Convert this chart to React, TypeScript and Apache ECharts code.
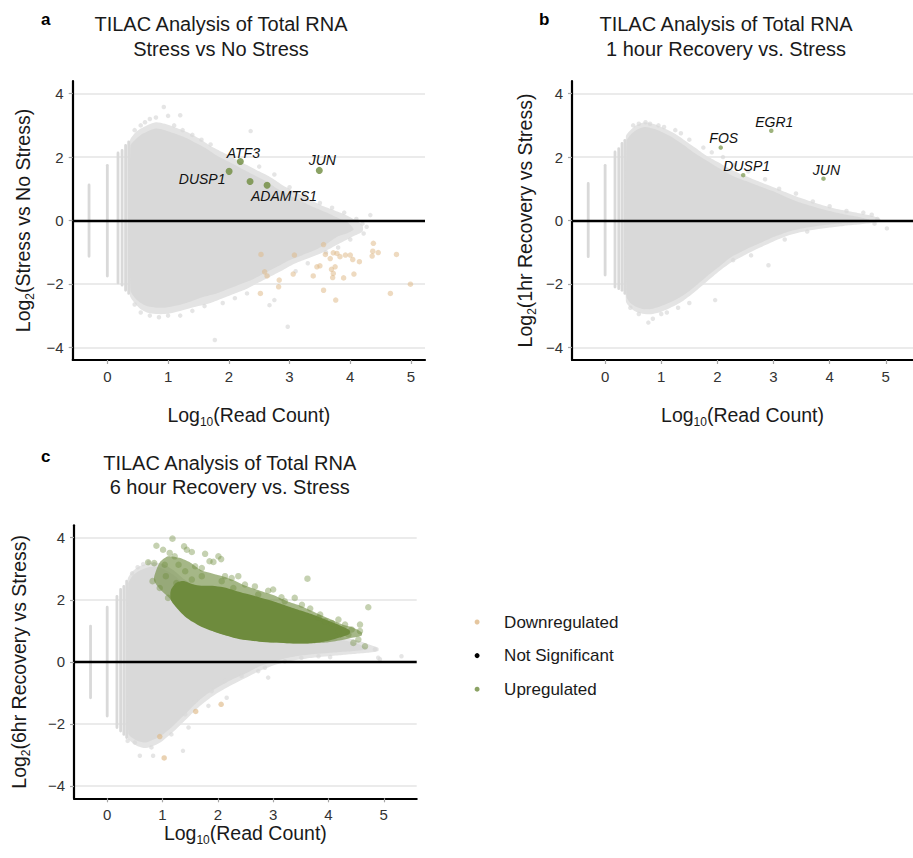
import React, { useEffect, useRef } from "react";
import * as echarts from "echarts";

const FONT = '"Liberation Sans", Arial, Helvetica, sans-serif';

// ---------- Panel a: Stress vs No Stress ----------
const aCloudX = [0.38, 0.46, 0.55, 0.65, 0.8, 0.95, 1.1, 1.3, 1.45, 1.6, 1.8, 2.0, 2.2, 2.4, 2.6, 2.8, 3.0, 3.2, 3.4, 3.6, 3.8, 3.95, 4.05];
const aCloudHi = [2.35, 2.55, 2.7, 2.8, 2.9, 2.85, 2.75, 2.6, 2.45, 2.3, 2.05, 1.85, 1.65, 1.45, 1.25, 1.0, 0.8, 0.6, 0.42, 0.26, 0.08, -0.05, -0.25];
const aCloudLo = [-2.2, -2.45, -2.6, -2.7, -2.75, -2.75, -2.7, -2.6, -2.5, -2.4, -2.3, -2.15, -2.0, -1.85, -1.65, -1.45, -1.25, -1.1, -0.95, -0.75, -0.5, -0.4, -0.3];
const aHaloX = [0.37, 0.45, 0.55, 0.65, 0.8, 0.95, 1.1, 1.3, 1.5, 1.7, 1.9, 2.1, 2.3, 2.5, 2.7, 2.9, 3.1, 3.3, 3.5, 3.7, 3.9, 4.05, 4.2];
const aHaloHi = [2.5, 2.75, 2.9, 3.0, 3.1, 3.05, 2.95, 2.8, 2.6, 2.35, 2.15, 1.95, 1.75, 1.55, 1.35, 1.1, 0.9, 0.7, 0.5, 0.35, 0.2, 0.05, -0.15];
const aHaloLo = [-2.35, -2.6, -2.8, -2.9, -2.95, -2.95, -2.9, -2.8, -2.7, -2.6, -2.45, -2.3, -2.15, -1.95, -1.75, -1.55, -1.35, -1.2, -1.05, -0.85, -0.65, -0.5, -0.35];
const aStripeX = [-0.301, 0, 0.176, 0.243, 0.301, 0.352];
const aStripeLo = [-1.13, -1.75, -1.97, -2.04, -2.2, -2.3];
const aStripeHi = [1.12, 1.74, 2.13, 2.21, 2.37, 2.48];
const aFringe = [
  [0.45, 2.85], [0.55, 3.0], [0.62, 3.1], [0.7, 3.2], [0.8, 3.25], [0.93, 3.58], [1.0, 3.3], [1.1, 3.0], [1.2, 3.32], [1.24, 2.85],
  [1.4, 2.7], [1.55, 2.55], [1.7, 2.4], [2.36, 2.82], [2.5, 1.7], [2.75, 1.45], [3.0, 1.05], [3.25, 0.8], [3.5, 0.55], [3.7, 0.4],
  [3.9, 0.25], [4.1, 0.05], [4.2, -0.1], [4.27, -0.2], [4.33, 0.17], [4.22, -0.41],
  [0.45, -2.65], [0.55, -2.9], [0.7, -3.0], [0.85, -3.05], [1.0, -3.0], [1.2, -3.0], [1.4, -2.85], [1.6, -2.7], [1.77, -3.77],
  [1.9, -2.6], [2.1, -2.45], [2.3, -2.3], [2.67, -2.67], [2.75, -2.51], [2.97, -3.35], [3.1, -1.6], [3.3, -1.35], [3.6, -1.0],
  [3.8, -0.85], [4.0, -0.6]
];
const aDown = [
  [2.53, -1.07], [3.08, -1.09], [3.56, -0.76], [3.59, -1.07], [3.67, -1.2], [3.72, -1.02], [3.78, -1.04], [3.83, -1.14], [3.92, -1.09],
  [4.0, -1.09], [4.04, -1.23], [4.15, -1.3], [4.38, -0.72], [4.37, -0.97], [4.36, -1.12], [4.46, -1.01], [4.76, -1.07], [2.59, -1.62],
  [2.63, -1.75], [2.83, -1.88], [2.82, -2.09], [3.06, -1.69], [3.39, -1.75], [3.45, -1.46], [3.5, -1.43], [3.69, -1.54], [3.72, -1.67],
  [3.75, -1.46], [3.71, -1.8], [3.89, -1.81], [4.06, -1.69], [2.52, -2.3], [3.56, -2.2], [3.76, -2.51], [4.66, -2.3], [4.99, -2.01]
];
const aUpGene = ["DUSP1", "ATF3", "", "ADAMTS1", "JUN"];
const aUpX = [2.005, 2.19, 2.35, 2.63, 3.49];
const aUpY = [1.55, 1.86, 1.23, 1.11, 1.58];

// ---------- Panel b: 1 hour Recovery vs. Stress ----------
const bCloudX = [0.38, 0.45, 0.55, 0.7, 0.85, 1.0, 1.2, 1.4, 1.6, 1.8, 2.0, 2.25, 2.5, 2.75, 3.0, 3.25, 3.5, 3.75, 4.0, 4.25, 4.5, 4.7];
const bCloudHi = [2.5, 2.7, 2.85, 2.95, 2.9, 2.8, 2.62, 2.38, 2.12, 1.9, 1.68, 1.43, 1.25, 1.08, 0.92, 0.72, 0.55, 0.42, 0.3, 0.2, 0.12, 0.03];
const bCloudLo = [-2.4, -2.6, -2.72, -2.8, -2.78, -2.7, -2.55, -2.35, -2.08, -1.78, -1.5, -1.15, -0.92, -0.72, -0.52, -0.36, -0.25, -0.18, -0.13, -0.09, -0.06, -0.02];
const bHaloX = [0.37, 0.45, 0.55, 0.7, 0.85, 1.0, 1.2, 1.4, 1.6, 1.8, 2.0, 2.25, 2.5, 2.75, 3.0, 3.25, 3.5, 3.75, 4.0, 4.25, 4.5, 4.75, 4.9];
const bHaloHi = [2.65, 2.85, 3.0, 3.1, 3.05, 2.95, 2.78, 2.55, 2.3, 2.05, 1.85, 1.6, 1.4, 1.22, 1.05, 0.87, 0.7, 0.55, 0.42, 0.32, 0.24, 0.15, 0.05];
const bHaloLo = [-2.55, -2.75, -2.88, -2.95, -2.95, -2.88, -2.72, -2.52, -2.25, -1.95, -1.65, -1.32, -1.08, -0.86, -0.66, -0.48, -0.36, -0.28, -0.22, -0.17, -0.13, -0.08, -0.03];
const bStripeX = [-0.301, 0, 0.176, 0.243, 0.301, 0.352];
const bStripeLo = [-1.14, -1.72, -2.1, -2.15, -2.2, -2.3];
const bStripeHi = [1.17, 1.74, 2.16, 2.27, 2.43, 2.53];
const bFringe = [
  [0.5, 3.0], [0.6, 3.05], [0.72, 3.1], [0.8, 3.05], [0.95, 3.0], [1.05, 2.95], [1.25, 2.85], [1.35, 2.75], [1.5, 2.55], [1.75, 2.3],
  [1.9, 2.15], [2.1, 2.0], [2.3, 1.75], [2.55, 1.55], [2.85, 1.3], [3.1, 1.0], [3.4, 0.85], [3.7, 0.6], [4.0, 0.45], [4.3, 0.3],
  [4.6, 0.25], [4.75, 0.18], [4.85, 0.05], [5.02, -0.25], [4.8, -0.1],
  [0.45, -2.75], [0.6, -2.95], [0.77, -3.22], [0.85, -3.1], [1.0, -2.95], [1.1, -2.9], [1.3, -2.75], [1.5, -2.6], [1.96, -2.51],
  [2.28, -1.25], [2.91, -1.41], [2.6, -1.1], [3.2, -0.6], [3.6, -0.35]
];
const bUpGene = ["FOS", "EGR1", "DUSP1", "JUN"];
const bUpX = [2.06, 2.96, 2.46, 3.89];
const bUpY = [2.3, 2.83, 1.43, 1.32];

// ---------- Panel c: 6 hour Recovery vs. Stress ----------
const cCloudX = [0.38, 0.45, 0.55, 0.7, 0.85, 1.0, 1.2, 1.4, 1.6, 1.8, 2.0, 2.25, 2.5, 2.75, 3.0, 3.25, 3.5, 3.75, 4.0, 4.25, 4.5, 4.7];
const cCloudHi = [2.5, 2.75, 2.9, 3.02, 3.07, 3.0, 2.8, 2.5, 2.3, 2.2, 2.1, 1.9, 1.7, 1.5, 1.3, 1.1, 1.0, 0.9, 0.8, 0.7, 0.6, 0.45];
const cCloudLo = [-2.3, -2.45, -2.55, -2.6, -2.5, -2.35, -2.05, -1.7, -1.35, -1.05, -0.82, -0.58, -0.38, -0.15, 0.0, 0.12, 0.2, 0.25, 0.28, 0.32, 0.36, 0.4];
const cHaloX = [0.37, 0.45, 0.55, 0.7, 0.85, 1.0, 1.2, 1.4, 1.6, 1.8, 2.0, 2.25, 2.5, 2.75, 3.0, 3.25, 3.5, 3.75, 4.0, 4.25, 4.5, 4.75, 4.9];
const cHaloHi = [2.65, 2.9, 3.05, 3.15, 3.2, 3.15, 2.95, 2.65, 2.45, 2.3, 2.2, 2.0, 1.8, 1.6, 1.4, 1.2, 1.1, 1.0, 0.9, 0.8, 0.7, 0.55, 0.45];
const cHaloLo = [-2.45, -2.6, -2.72, -2.78, -2.7, -2.55, -2.25, -1.9, -1.55, -1.25, -1.0, -0.75, -0.52, -0.3, -0.12, 0.0, 0.08, 0.14, 0.18, 0.22, 0.26, 0.3, 0.35];
const cStripeX = [-0.301, 0, 0.176, 0.243, 0.301, 0.352];
const cStripeLo = [-1.16, -1.75, -2.12, -2.23, -2.34, -2.44];
const cStripeHi = [1.15, 1.76, 2.11, 2.33, 2.43, 2.6];
const cFringe = [
  [0.45, 2.85], [0.55, 3.05], [0.65, 3.15], [0.75, 3.2], [0.85, 3.15],
  [2.43, -0.46], [2.13, -0.62], [1.89, -0.94], [2.16, -1.16], [1.59, -1.26], [1.83, -1.42], [1.41, -1.69], [1.47, -2.12], [1.16, -2.34],
  [0.8, -2.76], [0.59, -3.03], [0.83, -3.03], [1.37, -2.87], [0.5, -2.6], [0.37, -2.55], [2.85, -0.19], [3.21, 0.02], [3.51, 0.13],
  [3.82, 0.18], [4.03, 0.15], [4.9, 0.13], [4.84, 0.4], [2.91, -0.51], [2.73, -0.3], [5.32, 0.18], [4.93, 0.08]
];
const cDown = [[2.06, -1.37], [1.6, -1.6], [0.95, -2.41], [1.03, -3.1]];
const cUpOuterX = [0.85, 0.95, 1.1, 1.3, 1.5, 1.7, 1.9, 2.1, 2.3, 2.5, 2.75, 3.0, 3.25, 3.5, 3.75, 4.0, 4.25, 4.45, 4.6];
const cUpOuterHi = [2.75, 3.2, 3.4, 3.35, 3.2, 2.95, 2.85, 2.75, 2.62, 2.45, 2.3, 2.15, 1.95, 1.8, 1.6, 1.4, 1.2, 1.1, 0.95];
const cUpOuterLo = [2.6, 2.35, 2.1, 1.75, 1.45, 1.2, 1.0, 0.88, 0.78, 0.71, 0.66, 0.62, 0.6, 0.59, 0.6, 0.63, 0.7, 0.78, 0.85];
const cUpCoreX = [1.15, 1.25, 1.4, 1.55, 1.7, 1.9, 2.1, 2.3, 2.5, 2.75, 3.0, 3.25, 3.5, 3.75, 4.0, 4.2, 4.38];
const cUpCoreHi = [2.3, 2.55, 2.6, 2.5, 2.45, 2.45, 2.4, 2.3, 2.2, 2.08, 1.95, 1.8, 1.65, 1.5, 1.32, 1.18, 1.02];
const cUpCoreLo = [2.0, 1.75, 1.47, 1.28, 1.13, 0.99, 0.87, 0.77, 0.7, 0.65, 0.62, 0.6, 0.59, 0.61, 0.68, 0.78, 0.9];
const cUpFringe = [
  [1.18, 3.97], [0.89, 3.74], [1.01, 3.61], [1.13, 3.51], [1.39, 3.72], [1.44, 3.61], [1.22, 3.4], [1.53, 3.54], [1.77, 3.48],
  [1.85, 3.24], [2.01, 3.4], [2.06, 3.31], [1.92, 3.22], [0.74, 3.21], [0.85, 3.18], [1.04, 3.13], [1.29, 3.13], [1.59, 3.08],
  [1.71, 3.02], [1.06, 2.76], [0.82, 2.6], [1.41, 2.92], [2.13, 2.76], [2.25, 2.7], [2.37, 2.76], [2.49, 2.49], [2.67, 2.43],
  [2.91, 2.29], [3.0, 2.33], [3.15, 2.08], [3.39, 2.06], [3.62, 2.68], [3.67, 1.72], [3.82, 1.42], [3.94, 1.31], [4.06, 1.25],
  [4.3, 1.2], [4.42, 1.04], [4.57, 1.2], [4.57, 0.99], [4.54, 0.72], [4.66, 0.5], [4.72, 1.76], [4.18, 0.99], [0.95, 2.38],
  [1.1, 2.06], [1.25, 2.54], [1.53, 2.65], [1.71, 2.76], [2.07, 2.6], [2.28, 2.38], [2.73, 2.17], [3.21, 1.95], [3.52, 1.84],
  [3.85, 1.52], [4.18, 1.36], [4.36, 0.88], [4.45, 0.61]
];

// ---------- shared ----------
const xTicks = [0, 1, 2, 3, 4, 5];
const yTicks = [-4, -2, 0, 2, 4];
const titles = [
  "TILAC Analysis of Total RNA\nStress vs No Stress",
  "TILAC Analysis of Total RNA\n1 hour Recovery vs. Stress",
  "TILAC Analysis of Total RNA\n6 hour Recovery vs. Stress",
];
const yNames = ["Stress vs No Stress", "1hr Recovery vs Stress", "6hr Recovery vs Stress"];
const legendNames = ["Downregulated", "Not Significant", "Upregulated"];

// styling
const GRAY = "#d9d9d9";
const HALO = "#e4e4e4";
const TAN = "#deb887";
const GREEN = "#6e8b3d";
const labelOffsets: Record<string, number[]> = {
  "a-ATF3": [3, -9], "a-DUSP1": [-27, 8], "a-ADAMTS1": [17, 10.5], "a-JUN": [3, -10],
  "b-FOS": [3, -10], "b-EGR1": [3, -9], "b-DUSP1": [3.5, -9.5], "b-JUN": [3, -9],
};
const gridBoxes = [
  { left: 72.7, top: 81, width: 352.3, height: 279, xmin: -0.57, xmax: 5.23, xGap: 42, yGap: 37 },
  { left: 572, top: 81, width: 341, height: 279, xmin: -0.59, xmax: 5.485, xGap: 42, yGap: 34 },
  { left: 74, top: 525.3, width: 342.7, height: 273, xmin: -0.6, xmax: 5.595, xGap: 22, yGap: 42.5 },
];

function bandSeries(name: string, g: number, xs: number[], lo: number[], hi: number[], color: string, opacity: number, z: number) {
  return {
    type: "custom",
    name,
    xAxisIndex: g,
    yAxisIndex: g,
    z,
    silent: true,
    data: xs.map((x, i) => [x, lo[i], hi[i]]),
    encode: { x: 0, y: [1, 2] },
    renderItem: (params: any, api: any) => {
      if (params.dataIndex !== 0) return null;
      const top = xs.map((x, i) => api.coord([x, hi[i]]));
      const bot = xs.map((x, i) => api.coord([x, lo[i]])).reverse();
      return {
        type: "polygon",
        shape: { points: top.concat(bot), smooth: 0.25 },
        style: { fill: color, opacity },
      };
    },
  };
}

function stripeSeries(g: number, xs: number[], lo: number[], hi: number[]) {
  return {
    type: "custom",
    name: "Not Significant",
    xAxisIndex: g,
    yAxisIndex: g,
    z: 2,
    silent: true,
    data: xs.map((x, i) => [x, lo[i], hi[i]]),
    encode: { x: 0, y: [1, 2] },
    renderItem: (params: any, api: any) => {
      const p1 = api.coord([api.value(0), api.value(2)]);
      const p2 = api.coord([api.value(0), api.value(1)]);
      return {
        type: "rect",
        shape: { x: p1[0] - 1.4, y: p1[1] - 1.4, width: 2.8, height: p2[1] - p1[1] + 2.8, r: 1.4 },
        style: { fill: GRAY },
      };
    },
  };
}

function scatter(name: string, g: number, data: any[], color: string, size: number, z: number, extra: any = {}) {
  return {
    type: "scatter",
    name,
    xAxisIndex: g,
    yAxisIndex: g,
    z,
    silent: true,
    symbolSize: size,
    itemStyle: { color },
    data,
    ...extra,
  };
}

const zeroLine = {
  silent: true,
  symbol: "none",
  label: { show: false },
  lineStyle: { color: "#000", width: 2.4, type: "solid" },
  data: [{ yAxis: 0 }],
};

function labelled(panel: string, genes: string[], xs: number[], ys: number[]) {
  return xs.map((x, i) => {
    const g = genes[i];
    const off = labelOffsets[panel + "-" + g];
    return {
      value: [x, ys[i]],
      label: g
        ? {
            show: true,
            formatter: g,
            position: "inside",
            offset: off,
            color: "#111111",
            opacity: 1,
            textBorderWidth: 0,
            textBorderColor: "transparent",
            fontSize: 14,
            fontStyle: "italic",
            fontWeight: "normal",
            fontFamily: FONT,
          }
        : { show: false },
    };
  });
}

const minusFmt = (v: number) => (v < 0 ? "\u2212" + Math.abs(v) : String(v));

function buildOption() {
  const nameRich = {
    m: { fontSize: 19.5, fontFamily: FONT, color: "#1a1a1a", lineHeight: 26 },
    s: { fontSize: 12, fontFamily: FONT, color: "#1a1a1a", lineHeight: 12, verticalAlign: "bottom" },
  };
  const xAxis = gridBoxes.map((b, i) => ({
    type: "value",
    gridIndex: i,
    min: b.xmin,
    max: b.xmax,
    axisLine: { show: true, onZero: false, lineStyle: { color: "#000", width: 2.2 } },
    axisTick: { show: true, customValues: xTicks, length: 4, lineStyle: { color: "#a6a6a6", width: 1.2 } },
    axisLabel: { show: true, customValues: xTicks, margin: 9, fontSize: 15, color: "#333", fontFamily: FONT },
    splitLine: { show: false },
    name: "{m|Log}{s|10}{m|(Read Count)}",
    nameLocation: "middle",
    nameGap: b.xGap,
    nameTextStyle: { rich: nameRich },
  }));
  const yAxis = gridBoxes.map((b, i) => ({
    type: "value",
    gridIndex: i,
    min: -4.4,
    max: 4.4,
    axisLine: { show: true, onZero: false, lineStyle: { color: "#000", width: 2.2 } },
    axisTick: { show: true, customValues: yTicks, length: 4, lineStyle: { color: "#a6a6a6", width: 1.2 } },
    axisLabel: { show: true, customValues: yTicks, margin: 9, fontSize: 15, color: "#333", fontFamily: FONT, formatter: minusFmt },
    splitLine: { show: true, lineStyle: { color: "#ebebeb", width: 2 } },
    name: "{m|Log}{s|2}{m|(" + yNames[i] + ")}",
    nameLocation: "middle",
    nameGap: b.yGap,
    nameTextStyle: { rich: nameRich },
  }));
  const grid = gridBoxes.map((b) => ({
    left: b.left,
    top: b.top,
    width: b.width,
    height: b.height,
    containLabel: false,
    outerBoundsMode: "none",
  }));

  const titleCenters = [
    { cx: 221, top: 7 },
    { cx: 726, top: 7 },
    { cx: 229.7, top: 445.5 },
  ];
  const title = titles.map((t, i) => ({
    text: t,
    left: titleCenters[i].cx - 5,
    top: titleCenters[i].top,
    textAlign: "center",
    textStyle: { fontSize: 20, fontWeight: "normal", lineHeight: 24.5, color: "#1a1a1a", fontFamily: FONT },
  }));

  const series: any[] = [
    // panel a
    stripeSeries(0, aStripeX, aStripeLo, aStripeHi),
    bandSeries("Not Significant halo", 0, aHaloX, aHaloLo, aHaloHi, HALO, 1, 1),
    bandSeries("Not Significant", 0, aCloudX, aCloudLo, aCloudHi, GRAY, 1, 2),
    scatter("Not Significant", 0, aFringe, "rgba(217,217,217,0.85)", 4.5, 2),
    scatter("Downregulated", 0, aDown, "rgba(222,184,135,0.65)", 5.5, 3),
    scatter("Upregulated", 0, labelled("a", aUpGene, aUpX, aUpY), GREEN, 7, 5, { markLine: zeroLine }),
    // panel b
    stripeSeries(1, bStripeX, bStripeLo, bStripeHi),
    bandSeries("Not Significant halo", 1, bHaloX, bHaloLo, bHaloHi, HALO, 1, 1),
    bandSeries("Not Significant", 1, bCloudX, bCloudLo, bCloudHi, GRAY, 1, 2),
    scatter("Not Significant", 1, bFringe, "rgba(217,217,217,0.85)", 4.5, 2),
    scatter("Upregulated", 1, labelled("b", bUpGene, bUpX, bUpY), "#86a05c", 4.5, 5, { markLine: zeroLine }),
    // panel c
    stripeSeries(2, cStripeX, cStripeLo, cStripeHi),
    bandSeries("Not Significant halo", 2, cHaloX, cHaloLo, cHaloHi, HALO, 1, 1),
    bandSeries("Not Significant", 2, cCloudX, cCloudLo, cCloudHi, GRAY, 1, 2),
    scatter("Not Significant", 2, cFringe, "rgba(217,217,217,0.85)", 4.5, 2),
    scatter("Downregulated", 2, cDown, "rgba(222,184,135,0.8)", 5.5, 3),
    bandSeries("Upregulated band", 2, cUpOuterX, cUpOuterLo, cUpOuterHi, GREEN, 0.62, 3),
    bandSeries("Upregulated core", 2, cUpCoreX, cUpCoreLo, cUpCoreHi, GREEN, 1, 3),
    scatter("Upregulated", 2, cUpFringe, "rgba(110,139,61,0.5)", 6.5, 5, { markLine: zeroLine }),
  ];

  const legendColors = [TAN, "#000000", GREEN];
  return {
    animation: false,
    textStyle: { fontFamily: FONT },
    title,
    grid,
    xAxis,
    yAxis,
    series,
    legend: {
      orient: "vertical",
      left: 469.6,
      top: 608.5,
      itemWidth: 44,
      itemHeight: 5,
      itemGap: 16.6,
      selectedMode: false,
      icon: "circle",
      textStyle: { fontSize: 17, color: "#1a1a1a", fontFamily: FONT },
      data: legendNames.map((n, i) => ({ name: n, icon: "circle", itemStyle: { color: legendColors[i] } })),
    },
    graphic: [
      { type: "text", x: 45.7, y: 19.3, style: { text: "a", align: "center", verticalAlign: "middle", fontSize: 17, fontWeight: "bold", fill: "#000", fontFamily: FONT } },
      { type: "text", x: 544.3, y: 19.3, style: { text: "b", align: "center", verticalAlign: "middle", fontSize: 17, fontWeight: "bold", fill: "#000", fontFamily: FONT } },
      { type: "text", x: 45.7, y: 456.7, style: { text: "c", align: "center", verticalAlign: "middle", fontSize: 17, fontWeight: "bold", fill: "#000", fontFamily: FONT } },
    ],
  };
}

export default function App() {
  const ref = useRef<HTMLDivElement>(null);
  useEffect(() => {
    if (!ref.current) return;
    const chart = echarts.init(ref.current, null, { renderer: "svg" });
    chart.setOption(buildOption() as any);
    return () => chart.dispose();
  }, []);
  return (
    <div
      ref={ref}
      style={{ position: "absolute", left: 0, top: 0, width: 913, height: 858, background: "#fff" }}
    />
  );
}
